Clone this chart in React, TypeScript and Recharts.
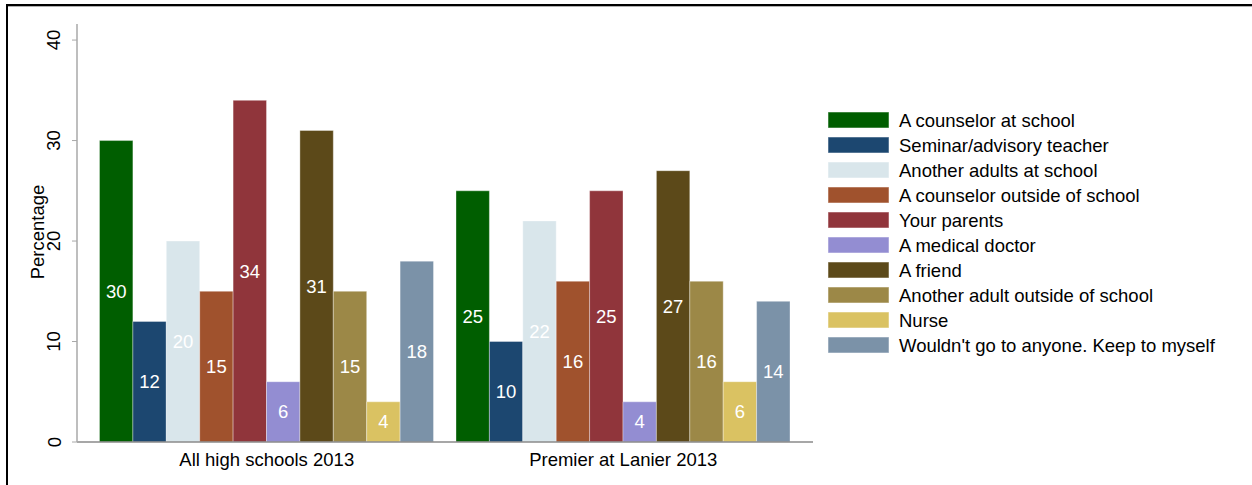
import { BarChart, Bar, XAxis, YAxis, LabelList } from 'recharts';

const groups = ['All high schools 2013', 'Premier at Lanier 2013'];

const seriesNames = [
  'A counselor at school',
  'Seminar/advisory teacher',
  'Another adults at school',
  'A counselor outside of school',
  'Your parents',
  'A medical doctor',
  'A friend',
  'Another adult outside of school',
  'Nurse',
  "Wouldn't go to anyone. Keep to myself",
];

const allHighSchools = [30, 12, 20, 15, 34, 6, 31, 15, 4, 18];
const premierLanier = [25, 10, 22, 16, 25, 4, 27, 16, 6, 14];

const yTicks = [0, 10, 20, 30, 40];

const colors = [
  '#005e00', '#1c4770', '#d9e6eb', '#a0522d', '#90353b',
  '#938dd2', '#5c4919', '#9c8847', '#dac262', '#7b92a8',
];

const FONT = '"Liberation Sans", Arial, sans-serif';

const data = groups.map((g, gi) => {
  const row: Record<string, string | number> = { group: g };
  const vals = gi === 0 ? allHighSchools : premierLanier;
  seriesNames.forEach((_, i) => { row[`s${i}`] = vals[i]; });
  return row;
});

const YTick = (props: any) => {
  const { x, y, payload } = props;
  const cx = x - 16;
  return (
    <text x={cx} y={y} transform={`rotate(-90, ${cx}, ${y})`} textAnchor="middle"
      dominantBaseline="central" fontSize={18.5} fontFamily={FONT} fill="#000">
      {payload.value}
    </text>
  );
};

const XTick = (props: any) => {
  const { x, payload } = props;
  return (
    <text x={x} y={466} textAnchor="middle" fontSize={18.5} fontFamily={FONT} fill="#000">
      {payload.value}
    </text>
  );
};

export default function App() {
  return (
    <div style={{ position: 'absolute', left: 0, top: 0, width: 1252, height: 485, background: '#fff', overflow: 'hidden' }}>
      {/* frame of the original screenshot */}
      <div style={{ position: 'absolute', left: 6, top: 4, right: 0, height: 2, background: '#000' }} />
      <div style={{ position: 'absolute', left: 6, top: 6, right: 0, height: 1, background: '#b0b0b0' }} />
      <div style={{ position: 'absolute', left: 6, top: 4, bottom: 0, width: 2, background: '#000' }} />

      <BarChart
        width={1252}
        height={485}
        data={data}
        margin={{ top: 24, right: 439, bottom: 0, left: 0 }}
        barGap={0}
        barSize={33.4}
        style={{ position: 'absolute', left: 0, top: 0 }}
      >
        <XAxis
          dataKey="group"
          height={43}
          tickLine={false}
          axisLine={{ stroke: '#8a8a8a', strokeWidth: 1.5 }}
          padding={{ left: 11.5, right: 11.5 }}
          tick={<XTick />}
          interval={0}
        />
        <YAxis
          width={77}
          domain={[0, 41.6]}
          ticks={yTicks}
          interval={0}
          tickSize={5}
          tickLine={{ stroke: '#a8a8a8' }}
          axisLine={{ stroke: '#a8a8a8', strokeWidth: 1.5 }}
          tick={<YTick />}
          label={{
            content: () => (
              <text x={37} y={232} transform="rotate(-90, 37, 232)" textAnchor="middle"
                dominantBaseline="central" fontSize={18.5} fontFamily={FONT} fill="#000">
                Percentage
              </text>
            ),
          }}
        />
        {seriesNames.map((name, i) => (
          <Bar key={name} dataKey={`s${i}`} name={name} fill={colors[i]}
            stroke="#ffffff" strokeOpacity={0.35} strokeWidth={1} isAnimationActive={false}>
            <LabelList dataKey={`s${i}`} position="center" fill="#ffffff"
              fontSize={18.5} fontFamily={FONT} />
          </Bar>
        ))}
      </BarChart>

      <svg width={1252} height={485} style={{ position: 'absolute', left: 0, top: 0, pointerEvents: 'none' }}>
        {seriesNames.map((name, i) => (
          <g key={name}>
            <rect x={828} y={112 + i * 25} width={61} height={16} fill={colors[i]}
              stroke="#ffffff" strokeOpacity={0.5} />
            <text x={899} y={127 + i * 25} fontSize={18.5} fontFamily={FONT} fill="#000">{name}</text>
          </g>
        ))}
      </svg>
    </div>
  );
}
